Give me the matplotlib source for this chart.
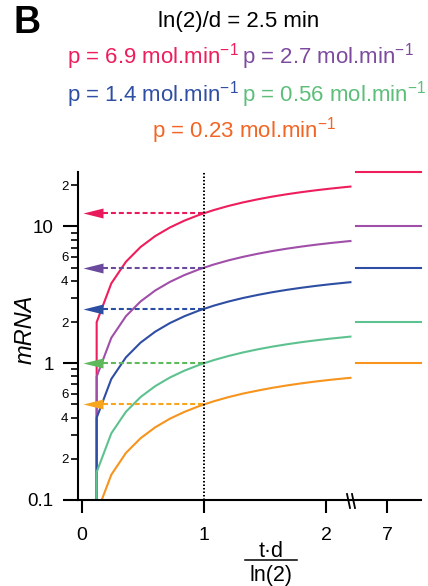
import matplotlib
matplotlib.use('Agg')
import matplotlib.pyplot as plt
from matplotlib.lines import Line2D
from matplotlib.path import Path

plt.rcParams['font.family'] = ['Liberation Sans', 'DejaVu Sans']
plt.rcParams['mathtext.fontset'] = 'custom'
plt.rcParams['mathtext.rm'] = 'Liberation Sans'
plt.rcParams['mathtext.it'] = 'Liberation Sans:italic'
plt.rcParams['mathtext.bf'] = 'Liberation Sans:bold'
plt.rcParams['mathtext.default'] = 'regular'

# ---------------- data ----------------
t_scaled = [0, 0.12, 0.24, 0.36, 0.48, 0.60, 0.72, 0.84, 0.96, 1.08,
            1.20, 1.32, 1.44, 1.56, 1.68, 1.80, 1.92, 2.04, 2.16, 2.20]
mrna_p69 = [0, 1.995, 3.833, 5.520, 7.075, 8.505, 9.823, 11.035, 12.148, 13.173,
            14.118, 14.988, 15.785, 16.523, 17.198, 17.820, 18.393, 18.920,
            19.405, 19.560]
mrna_p27 = [0, 0.798, 1.533, 2.208, 2.830, 3.402, 3.929, 4.414, 4.859, 5.269,
            5.647, 5.995, 6.314, 6.609, 6.879, 7.128, 7.357, 7.568, 7.762, 7.824]
mrna_p14 = [0, 0.399, 0.767, 1.104, 1.415, 1.701, 1.965, 2.207, 2.430, 2.635,
            2.824, 2.998, 3.157, 3.305, 3.440, 3.564, 3.679, 3.784, 3.881, 3.912]
mrna_p056 = [0, 0.160, 0.307, 0.442, 0.566, 0.680, 0.786, 0.883, 0.972, 1.054,
             1.129, 1.199, 1.263, 1.322, 1.376, 1.426, 1.471, 1.514, 1.552, 1.565]
mrna_p023 = [0, 0.080, 0.153, 0.221, 0.283, 0.340, 0.393, 0.441, 0.486, 0.527,
             0.565, 0.600, 0.631, 0.661, 0.688, 0.713, 0.736, 0.757, 0.776, 0.782]
series = [mrna_p69, mrna_p27, mrna_p14, mrna_p056, mrna_p023]

steady_state = [25, 10, 5, 2, 1]
half_level = [12.5, 5, 2.5, 1, 0.5]
half_time = 1
late_t = [6.73, 7.3]

rate_labels = ['p = 6.9 mol.min$^{-1}$', 'p = 2.7 mol.min$^{-1}$',
               'p = 1.4 mol.min$^{-1}$', 'p = 0.56 mol.min$^{-1}$',
               'p = 0.23 mol.min$^{-1}$']
title_text = 'ln(2)/d = 2.5 min'

y_major = [0.1, 1, 10]
y_major_labels = ['0.1', '1', '10']
y_minor = [0.2, 0.3, 0.4, 0.5, 0.6, 0.7, 0.8, 0.9,
           2, 3, 4, 5, 6, 7, 8, 9, 20]
y_minor_labels = ['2', '', '4', '', '6', '', '', '',
                  '2', '', '4', '', '6', '', '', '', '2']
x_ticks_main = [0, 1, 2]
x_ticks_main_labels = ['0', '1', '2']
x_ticks_late = [7]
x_ticks_late_labels = ['7']

# ---------------- styles ----------------
line_colors = ['#EE1D5C', '#A04FA9', '#2E4EA3', '#5DC28F', '#F7941D']
arrow_colors = ['#E91A5C', '#6B4A9E', '#2C4EA2', '#5DB95C', '#F8A51E']
text_colors = ['#EE1D5C', '#7D4A9E', '#2E4EA3', '#5DBE7A', '#F26524']

W, H = 428, 586
fig = plt.figure(figsize=(W / 100, H / 100), dpi=100)


def fx(px):
    return px / W


def fy(py):
    return 1 - py / H


ax1 = fig.add_axes([fx(78), fy(500), fx(353) - fx(78), fy(172) - fy(500)])
ax2 = fig.add_axes([fx(353), fy(500), fx(421) - fx(353), fy(172) - fy(500)])

for ax in (ax1, ax2):
    ax.set_yscale('log')
    ax.set_ylim(0.1, 25)
    ax.patch.set_visible(False)
    ax.spines['top'].set_visible(False)
    ax.spines['right'].set_visible(False)
    ax.spines['bottom'].set_linewidth(1.5)
    ax.tick_params(axis='x', direction='out', length=9.5, width=1.5,
                   pad=10, labelsize=14)

ax1.set_xlim(-0.033, 2.221)
ax2.set_xlim(6.7, 7.3)
ax1.spines['left'].set_linewidth(1.5)
ax2.spines['left'].set_visible(False)

# y ticks
ax1.set_yticks(y_major, labels=y_major_labels)
ax1.set_yticks(y_minor, labels=y_minor_labels, minor=True)
ax1.tick_params(axis='y', which='major', direction='out', length=10.5,
                width=1.5, pad=7, labelsize=13.5)
ax1.tick_params(axis='y', which='minor', direction='out', length=5,
                width=1.2, pad=2, labelsize=9.5)
ax2.tick_params(axis='y', which='both', left=False, labelleft=False)

ax1.set_xticks(x_ticks_main, labels=x_ticks_main_labels)
ax2.set_xticks(x_ticks_late, labels=x_ticks_late_labels)

# curves
for vals, c in zip(series, line_colors):
    ax1.plot(t_scaled, vals, color=c, lw=1.5)

# steady-state lines on the right
for s, c in zip(steady_state, line_colors):
    ax2.plot(late_t, [s, s], color=c, lw=1.5, clip_on=False)

# half-life vertical dotted line
ax1.axvline(half_time, color='black', ls=(0, (0.8, 1.0)), lw=1.4)

# arrows marking half of steady state
arrow_path = Path([(-1, 0), (1, -0.5), (1, 0.5), (-1, 0)],
                  [Path.MOVETO, Path.LINETO, Path.LINETO, Path.CLOSEPOLY])
arrow_center = 0.09
arrow_base = 0.17
for h, c in zip(half_level, arrow_colors):
    ax1.plot([arrow_base, half_time], [h, h], color=c, lw=1.5,
             ls=(0, (2.4, 1.4)))
    ax1.plot([arrow_center], [h], marker=arrow_path, ms=14.4, color=c,
             mew=0, ls='none', clip_on=False)

# axis break marks
for xb in (347, 352):
    fig.add_artist(Line2D([fx(xb), fx(xb + 3)], [fy(494), fy(508)],
                          color='black', lw=1.3, transform=fig.transFigure))

# texts
fig.text(fx(14), fy(33), 'B', fontsize=27, fontweight='bold',
         ha='left', va='baseline')
fig.text(fx(239), fy(27), title_text, fontsize=16, ha='center',
         va='baseline')
label_pos = [(67, 63, 'left'), (242, 63, 'left'), (67, 102, 'left'),
             (242, 102, 'left'), (244, 138, 'center')]
for txt, c, (px, py, ha) in zip(rate_labels, text_colors, label_pos):
    fig.text(fx(px), fy(py), txt, color=c, fontsize=16, ha=ha,
             va='baseline')

fig.text(fx(25), fy(329), 'mRNA', rotation=90, fontstyle='italic',
         fontsize=17, ha='center', va='center')

# x label as a fraction
fig.text(fx(271), fy(557), 't\u00b7d', fontsize=15.5, ha='center',
         va='baseline')
fig.add_artist(Line2D([fx(245), fx(297)], [fy(560), fy(560)], color='black',
                      lw=1.1, transform=fig.transFigure))
fig.text(fx(271), fy(581), 'ln(2)', fontsize=15.5, ha='center',
         va='baseline')

fig.savefig('out.png', dpi=100)
